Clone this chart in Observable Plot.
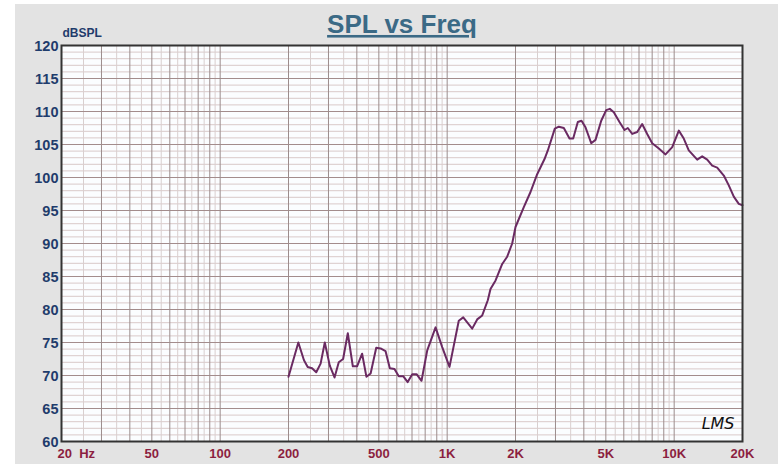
<!DOCTYPE html>
<html>
<head>
<meta charset="utf-8">
<script src="https://cdn.jsdelivr.net/npm/d3@7"></script>
<script src="https://cdn.jsdelivr.net/npm/@observablehq/plot@0.6"></script>
<style>
  html, body { margin: 0; padding: 0; background: #ffffff; }
  #chart { width: 778px; height: 464px;
    background: linear-gradient(#e3e3e3, #e3e3e3) 15px 4px / 763px 460px no-repeat, #ffffff; }
  #chart svg { display: block; }
</style>
</head>
<body>
<div id="chart"></div>
<script>
const freqHz = [200, 221, 234, 243, 254, 265, 277, 289, 304, 319, 333, 348, 365, 384, 401, 422, 441, 460, 487, 509, 535, 559, 586, 612, 640, 670, 702, 733, 771, 817, 889, 951, 1024, 1125, 1177, 1289, 1356, 1427, 1510, 1552, 1634, 1748, 1838, 1934, 2000, 2176, 2329, 2492, 2685, 2776, 2980, 3104, 3265, 3459, 3591, 3763, 3906, 4068, 4311, 4503, 4771, 5019, 5205, 5421, 5743, 6045, 6248, 6535, 6874, 7228, 7606, 8003, 8560, 9163, 9806, 10484, 11024, 11597, 12632, 13289, 13982, 14707, 15472, 16545, 17403, 18310, 19262, 20000];
const splDb = [69.8, 75.0, 72.3, 71.3, 71.1, 70.5, 71.8, 75.0, 71.5, 69.7, 72.0, 72.5, 76.4, 71.4, 71.4, 73.3, 69.8, 70.3, 74.2, 74.1, 73.7, 71.1, 71.0, 69.9, 69.9, 69.0, 70.2, 70.2, 69.2, 73.8, 77.3, 74.3, 71.3, 78.3, 78.8, 77.1, 78.5, 79.1, 81.4, 83.1, 84.4, 86.9, 88.0, 90.0, 92.5, 95.5, 97.8, 100.5, 102.8, 104.1, 107.4, 107.7, 107.5, 105.9, 105.9, 108.4, 108.6, 107.6, 105.2, 105.7, 108.6, 110.2, 110.4, 109.9, 108.4, 107.2, 107.5, 106.6, 106.9, 108.1, 106.6, 105.2, 104.4, 103.5, 104.6, 107.1, 105.9, 104.1, 102.7, 103.2, 102.7, 101.8, 101.5, 100.3, 98.8, 97.1, 96.0, 95.8];

const yTicks = [60, 65, 70, 75, 80, 85, 90, 95, 100, 105, 110, 115, 120];
const xTickValues = [50, 100, 200, 500, 1000, 2000, 5000, 10000, 20000];
const xTickLabels = ["50", "100", "200", "500", "1K", "2K", "5K", "10K", "20K"];
const firstTickLabel = "20  Hz";
const titleText = "SPL vs Freq";
const yUnitText = "dBSPL";
const brandText = "LMS";

const data = freqHz.map((f, i) => ({f, db: splDb[i]}));

// grid lines
const majorX = [], minorX = [];
for (const dec of [10, 100, 1000]) {
  for (let m = 2; m <= 10; m++) {
    const v = m * dec;
    if (v > 20 && v < 20000) majorX.push(v);
  }
  for (let m = 2.5; m < 10; m += 1) {
    const v = m * dec;
    if (v > 20 && v < 20000) minorX.push(v);
  }
}
const majorY = yTicks.slice(1, -1);
const minorY = d3.range(61, 120).filter(v => v % 5 !== 0);

const xTicks = xTickValues.map((v, i) => ({v, label: xTickLabels[i]}));

const chart = Plot.plot({
  width: 778,
  height: 464,
  marginLeft: 61,
  marginRight: 36,
  marginTop: 45,
  marginBottom: 23,
  x: {type: "log", domain: [20, 20000], axis: null},
  y: {domain: [60, 120], axis: null},
  style: {background: "transparent", fontFamily: "'Liberation Sans', Arial, sans-serif"},
  marks: [
    Plot.frame({fill: "#fbfdff", stroke: null}),
    Plot.ruleY(minorY, {stroke: "#d9c9c9", strokeWidth: 1}),
    Plot.ruleX(minorX, {stroke: "#d9cfcf", strokeWidth: 1}),
    Plot.ruleY(majorY, {stroke: "#a38c8c", strokeWidth: 1}),
    Plot.ruleX(majorX, {stroke: "#9c8c8c", strokeWidth: 1}),
    Plot.line(data, {x: "f", y: "db", stroke: "#6a2a62", strokeWidth: 2, curve: "linear"}),
    Plot.frame({stroke: "#333333", strokeWidth: 2}),
    Plot.text(yTicks, {x: 20, y: d => d, text: d => String(d), textAnchor: "end", dx: -3, dy: 1,
      fill: "#1f3c6c", fontWeight: "bold", fontSize: 14.5}),
    Plot.text(xTicks, {x: "v", y: 60, text: "label", dy: 12, textAnchor: "middle",
      fill: "#8c1f40", fontWeight: "bold", fontSize: 13}),
    Plot.text([firstTickLabel], {x: 20, y: 60, text: d => d, dy: 12, dx: -4, textAnchor: "start",
      fill: "#8c1f40", fontWeight: "bold", fontSize: 13}),
    Plot.text([yUnitText], {x: 20, y: 120, text: d => d, dx: 1, dy: -12, textAnchor: "start",
      fill: "#1f3c6c", fontWeight: "bold", fontSize: 12}),
    Plot.text([titleText], {frameAnchor: "top", text: d => d, dy: -31, fill: "#3b6a86",
      fontWeight: "bold", fontSize: 26, className: "title"}),
    Plot.text([brandText], {frameAnchor: "bottom-right", text: d => d, dx: -8, dy: -13,
      fill: "#111111", fontSize: 16, fontStyle: "italic", fontFamily: "'DejaVu Sans', sans-serif"})
  ]
});

d3.select(chart).selectAll("g[aria-label='text'] text")
  .filter(function() { return this.textContent === titleText; })
  .style("text-decoration", "underline");

document.getElementById("chart").appendChild(chart);
</script>
</body>
</html>
